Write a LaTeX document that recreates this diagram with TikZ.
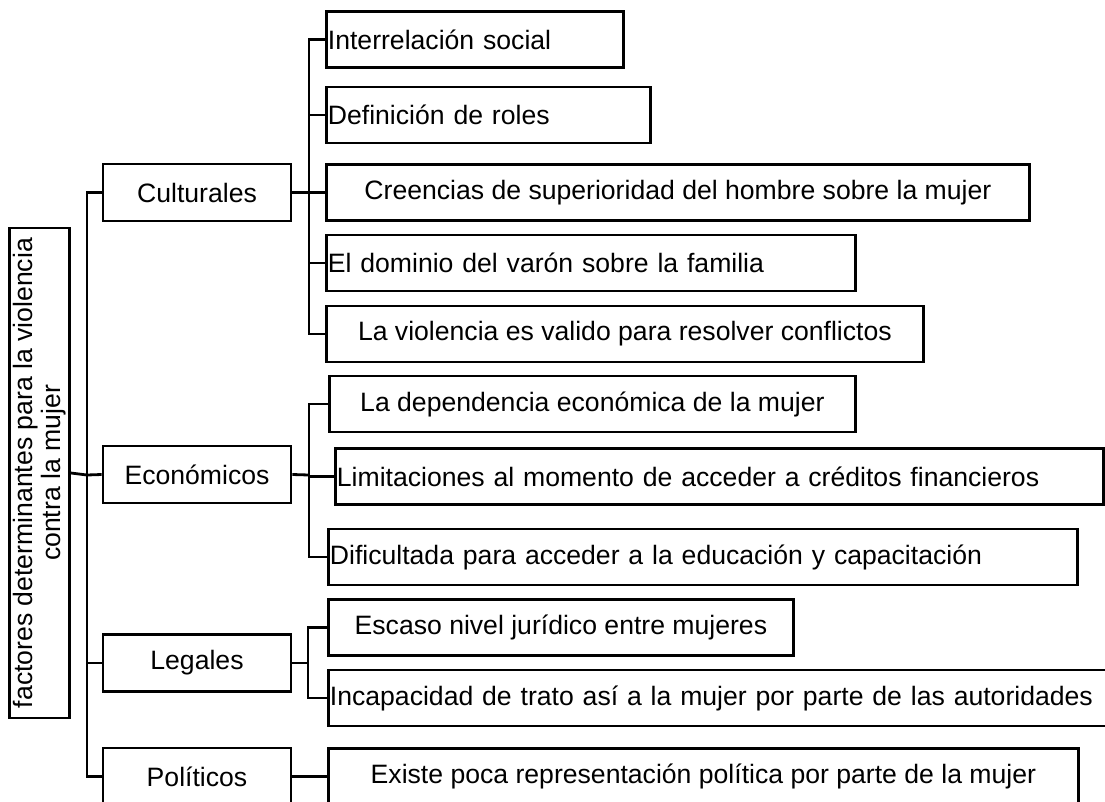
\documentclass[tikz,border=0pt]{standalone}
\usepackage{fontspec}
\setmainfont{Liberation Sans}
\usetikzlibrary{positioning,calc}
\tikzset{
    caja/.style={draw=black, line width=2.8pt, minimum height=56pt, inner xsep=1.5pt, font=\fontsize{26.6}{28.5}\selectfont},
    raiz/.style={caja, rotate=90, minimum width=490pt, minimum height=57pt, align=center},
    categoria/.style={caja, minimum width=188pt, minimum height=57pt},
    hojac/.style={caja, anchor=west, minimum width=#1},
    hojal/.style={caja, anchor=west, text width=#1, align=left},
    enlace/.style={draw=black, line width=2.8pt}
}
\begin{document}
\begin{tikzpicture}[x=1pt, y=-1pt]
    \useasboundingbox (0,0) rectangle (1105,801);
    % Nodo raíz
    \node[raiz] (raiz) at (39.5,473) {factores determinantes para la violencia\\contra la mujer};
    % Categorías
    \node[categoria] (cult) at (197,192.5) {Culturales};
    \node[categoria] (eco) at (197,474.5) {Económicos};
    \node[categoria] (leg) at (197,663) {Legales};
    \node[categoria] (pol) at (197,776.5) {Políticos};
    % Rama Culturales
    \node[hojal=294pt] (inter) at (325,39.5) {Interrelación social};
    \node[hojal=321pt] (defin) at (325,115) {Definición de roles};
    \node[hojac=703pt] (creen) at (325,192.5) {Creencias de superioridad del hombre sobre la mujer};
    \node[hojal=526pt] (domin) at (325,263) {El dominio del varón sobre la familia};
    \node[hojac=597pt] (viol) at (325,334) {La violencia es valido para resolver conflictos};
    % Rama Económicos
    \node[hojac=526pt] (dep) at (328,404) {La dependencia económica de la mujer};
    \node[hojal=765pt] (limit) at (334,476.5) {Limitaciones al momento de acceder a créditos financieros};
    \node[hojal=746pt] (dific) at (327,557) {Dificultada para acceder a la educación y capacitación};
    % Rama Legales
    \node[hojac=465pt] (esc) at (327,627.5) {Escaso nivel jurídico entre mujeres};
    \node[hojal=790pt] (incap) at (327,698) {Incapacidad de trato así a la mujer por parte de las autoridades};
    % Rama Políticos
    \node[hojac=750pt] (exist) at (327,776.5) {Existe poca representación política por parte de la mujer};
    % Conectores principales
    \coordinate (ejeA) at (87,475);
    \draw[enlace] (raiz.south) -- (ejeA);
    \draw[enlace] (cult.west) -| (ejeA) |- (pol.west);
    \draw[enlace] (ejeA) -- (eco.west);
    \draw[enlace] (leg.west) -| (ejeA);
    % Conectores Culturales
    \coordinate (ejeC) at (309,192.5);
    \draw[enlace] (cult.east) -- (ejeC);
    \draw[enlace] (inter.west) -| (ejeC) |- (viol.west);
    \foreach \n in {defin,creen,domin}
        \draw[enlace] (\n.west) -| (ejeC);
    % Conectores Económicos
    \coordinate (ejeE) at (309,475);
    \draw[enlace] (eco.east) -- (ejeE);
    \draw[enlace] (dep.west) -| (ejeE) |- (dific.west);
    \draw[enlace] (limit.west) -| (ejeE);
    % Conectores Legales y Políticos
    \coordinate (ejeL) at (308,663);
    \draw[enlace] (leg.east) -- (ejeL);
    \draw[enlace] (esc.west) -| (ejeL) |- (incap.west);
    \draw[enlace] (pol.east) -- (exist.west);
\end{tikzpicture}
\end{document}
